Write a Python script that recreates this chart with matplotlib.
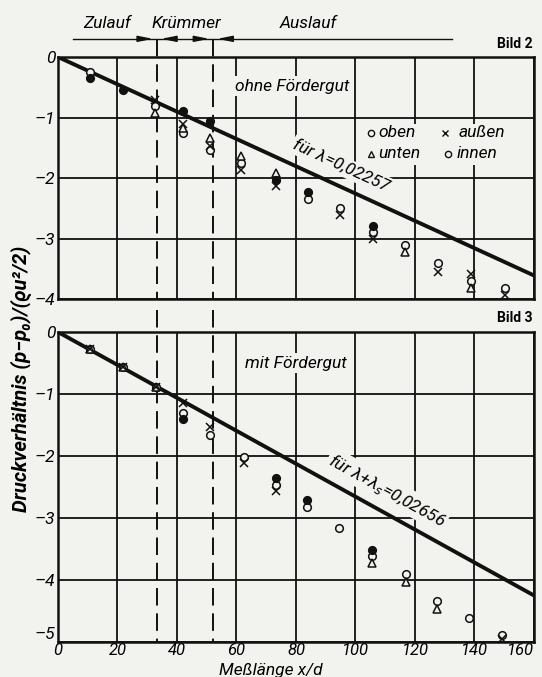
import numpy as np
import matplotlib
matplotlib.use('Agg')
import matplotlib.pyplot as plt

plt.rcParams['font.family'] = ['Roboto', 'DejaVu Sans']
plt.rcParams['font.style'] = 'italic'
plt.rcParams['axes.unicode_minus'] = False

paper = '#f2f2ef'

# Bild 2 - ohne Fördergut
oben2_x = [10.7, 21.9, 42.0, 51.0, 73.4, 84.0, 105.8]
oben2_y = [-0.34, -0.55, -0.89, -1.05, -2.04, -2.23, -2.80]
unten2_x = [32.6, 42.0, 51.0, 61.6, 73.4, 116.8, 138.8]
unten2_y = [-0.93, -1.17, -1.34, -1.64, -1.91, -3.23, -3.82]
aussen2_x = [32.6, 42.0, 51.0, 61.6, 73.4, 94.9, 105.8, 127.6, 138.8, 150.3]
aussen2_y = [-0.71, -1.10, -1.47, -1.86, -2.13, -2.61, -3.00, -3.56, -3.59, -3.93]
innen2_x = [10.7, 32.6, 42.0, 51.0, 61.6, 84.0, 94.9, 105.8, 116.8, 127.6, 138.8, 150.3]
innen2_y = [-0.24, -0.81, -1.26, -1.54, -1.76, -2.35, -2.50, -2.90, -3.11, -3.40, -3.71, -3.81]
lam2 = 0.02257

# Bild 3 - mit Fördergut
oben3_x = [42.1, 73.2, 83.7, 105.6]
oben3_y = [-1.41, -2.36, -2.71, -3.51]
unten3_x = [10.7, 21.7, 33.1, 105.6, 117.0, 127.3]
unten3_y = [-0.28, -0.56, -0.88, -3.72, -4.03, -4.46]
aussen3_x = [10.7, 21.7, 33.1, 42.1, 51.0, 62.4, 73.2, 149.2]
aussen3_y = [-0.28, -0.56, -0.88, -1.14, -1.53, -2.12, -2.56, -4.95]
innen3_x = [10.7, 21.7, 33.1, 42.1, 51.0, 62.4, 73.2, 83.7, 94.6, 105.6, 117.0, 127.3, 138.0, 149.2]
innen3_y = [-0.28, -0.56, -0.88, -1.30, -1.66, -2.01, -2.46, -2.83, -3.16, -3.61, -3.90, -4.34, -4.62, -4.88]
lam3 = 0.02656

x_line = np.array([0, 160])
bend = [33.3, 52.2]
xticks = [0, 20, 40, 60, 80, 100, 120, 140, 160]

fig = plt.figure(figsize=(5.42, 6.77), dpi=100, facecolor=paper)
ax1 = fig.add_axes([0.1070, 0.5583, 0.8782, 0.3575], facecolor=paper)
ax2 = fig.add_axes([0.1070, 0.0517, 0.8782, 0.4579], facecolor=paper)


def setup(ax, ymin, labels):
    ax.set_xlim(0, 160)
    ax.set_ylim(ymin, 0)
    ax.set_xticks(xticks)
    ax.set_yticks(range(ymin, 1))
    ax.set_yticklabels([str(v).replace('-', '–') for v in range(ymin, 1)], fontsize=12.5)
    if labels:
        ax.set_xticklabels([str(v) for v in xticks], fontsize=12)
    else:
        ax.set_xticklabels([])
    ax.tick_params(axis='y', length=0, pad=2)
    ax.tick_params(axis='x', length=0, pad=0.5)
    ax.grid(True, color='#111111', lw=1.3)
    ax.set_axisbelow(True)
    for s in ax.spines.values():
        s.set_linewidth(1.8)
        s.set_color('#111111')


kw = dict(ls='none', color='#111111', ms=5.5, mew=1.1, zorder=5, clip_on=False)


def markers(ax, ob_x, ob_y, un_x, un_y, au_x, au_y, in_x, in_y):
    ax.plot(in_x, in_y, marker='o', mfc=paper, **kw)
    ax.plot(un_x, un_y, marker='^', mfc=paper, **kw)
    ax.plot(au_x, au_y, marker='x', **kw)
    ax.plot(ob_x, ob_y, marker='o', mfc='#111111', **kw)


def angle(ax, lam):
    p = ax.transData.transform([[0, 0], [160, -lam * 160]])
    d = p[1] - p[0]
    return np.degrees(np.arctan2(d[1], d[0]))


setup(ax1, -4, False)
setup(ax2, -5, True)
ax2.get_xticklabels()[-1].set_horizontalalignment('right')
ax2.get_xticklabels()[-1].set_x(162.5)
ax2.get_yticklabels()[0].set_verticalalignment('bottom')

ax1.plot(x_line, -lam2 * x_line, color='#111111', lw=2.8, zorder=4)
ax2.plot(x_line, -lam3 * x_line, color='#111111', lw=2.8, zorder=4)

markers(ax1, oben2_x, oben2_y, unten2_x, unten2_y, aussen2_x, aussen2_y, innen2_x, innen2_y)
markers(ax2, oben3_x, oben3_y, unten3_x, unten3_y, aussen3_x, aussen3_y, innen3_x, innen3_y)

# dashed bend limits
for xb in bend:
    ax1.plot([xb, xb], [0.30, -4], color='#111111', lw=1.4, dashes=(9, 4), clip_on=False, zorder=3)
    ax2.plot([xb, xb], [0.35, -5], color='#111111', lw=1.4, dashes=(9, 4), clip_on=False, zorder=3)

# section header
ax1.plot([5, 132.5], [0.30, 0.30], color='#111111', lw=1.0, clip_on=False)
for xb in bend:
    ax1.annotate('', xy=(xb - 0.4, 0.30), xytext=(xb - 5, 0.30), annotation_clip=False,
                 arrowprops=dict(arrowstyle='-|>,head_length=0.9,head_width=0.18', color='#111111', lw=1))
    ax1.annotate('', xy=(xb + 0.4, 0.30), xytext=(xb + 5, 0.30), annotation_clip=False,
                 arrowprops=dict(arrowstyle='-|>,head_length=0.9,head_width=0.18', color='#111111', lw=1))
for txt, xc in [('Zulauf', 16.5), ('Krümmer', 43), ('Auslauf', 84)]:
    ax1.text(xc, 0.55, txt, ha='center', va='center', fontsize=12.5, clip_on=False)

box = dict(facecolor=paper, edgecolor='none', pad=1.5)
ax1.text(0.997, 1.055, 'Bild 2', transform=ax1.transAxes, ha='right', va='center',
         fontsize=10, fontweight='bold', style='normal')
ax2.text(0.997, 1.045, 'Bild 3', transform=ax2.transAxes, ha='right', va='center',
         fontsize=10, fontweight='bold', style='normal')

ax1.text(59.5, -0.48, 'ohne Fördergut', ha='left', va='center', fontsize=12.5, bbox=box, zorder=3)
ax2.text(62.8, -0.50, 'mit Fördergut', ha='left', va='center', fontsize=12.5, bbox=box, zorder=3)

# legend (hand drawn, as in the original)
ax1.add_patch(plt.Rectangle((101, -1.78), 44, 0.68, facecolor=paper, edgecolor='none', zorder=2.5))
leg_kw = dict(kw, ms=4.5, mew=1.0)
ax1.plot([105.3], [-1.26], marker='o', mfc=paper, **leg_kw)
ax1.plot([130.0], [-1.26], marker='x', **leg_kw)
ax1.plot([105.3], [-1.60], marker='^', mfc=paper, **leg_kw)
ax1.plot([131.0], [-1.60], marker='o', mfc=paper, **leg_kw)
ax1.text(107.8, -1.25, 'oben', ha='left', va='center', fontsize=12.5, zorder=3)
ax1.text(134.5, -1.25, 'außen', ha='left', va='center', fontsize=12.5, zorder=3)
ax1.text(107.8, -1.59, 'unten', ha='left', va='center', fontsize=12.5, zorder=3)
ax1.text(134.0, -1.59, 'innen', ha='left', va='center', fontsize=12.5, zorder=3)

ax1.text(95.3, -1.80, 'für λ=0,02257', ha='center', va='center', fontsize=12.5,
         rotation=angle(ax1, lam2), rotation_mode='anchor', bbox=box, zorder=3)
ax2.text(110.7, -2.55, 'für λ+λ$_s$=0,02656', ha='center', va='center', fontsize=12.5,
         rotation=angle(ax2, lam3), rotation_mode='anchor', bbox=box, zorder=3)

fig.text(0.037, 0.44, 'Druckverhältnis (p−p₀)/(ϱu²/2)', rotation=90, ha='center', va='center',
         fontsize=14.5, fontweight='bold')
fig.text(0.50, -0.002, 'Meßlänge x/d', ha='center', va='bottom', fontsize=12.5)

fig.savefig('out.png', dpi=100, facecolor=paper)
